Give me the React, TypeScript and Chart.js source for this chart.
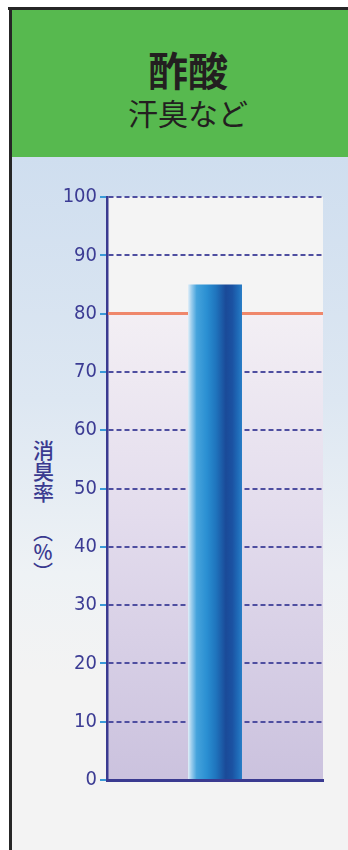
import React, { useEffect, useRef } from 'react';
import { Chart, registerables } from 'chart.js';

Chart.register(...registerables);

// ---- data ----
const CATEGORIES = ['酢酸'];
const DEODORIZATION_RATE = [85];
const TARGET_LINE = 80;
const Y_MIN = 0;
const Y_MAX = 100;
const Y_STEP = 10;
const TITLE = '酢酸';
const SUBTITLE = '汗臭など';
const AXIS_TITLE_MAIN = '消臭率';
const AXIS_TITLE_UNIT = '（％）';

const NAVY = '#3a3a90';
const TICK_FONT = '"Liberation Sans Narrow", "DejaVu Sans Condensed", "Liberation Sans", sans-serif';

const plotBgPlugin = {
  id: 'plotBg',
  beforeDraw(chart: any) {
    const { ctx, chartArea } = chart;
    if (!chartArea) return;
    const g = ctx.createLinearGradient(0, chartArea.top, 0, chartArea.bottom);
    g.addColorStop(0, '#f4f4f4');
    g.addColorStop(0.2, '#f4f4f4');
    g.addColorStop(0.2, '#f3eff4');
    g.addColorStop(0.55, '#e3dced');
    g.addColorStop(1, '#cbc2de');
    ctx.save();
    ctx.fillStyle = g;
    ctx.fillRect(chartArea.left, chartArea.top, chartArea.right - chartArea.left, chartArea.bottom - chartArea.top);
    ctx.restore();
  },
};

const targetLinePlugin = {
  id: 'targetLine',
  beforeDatasetsDraw(chart: any) {
    const { ctx, chartArea, scales } = chart;
    const y = scales.y.getPixelForValue(TARGET_LINE);
    ctx.save();
    ctx.strokeStyle = '#ef876b';
    ctx.lineWidth = 3;
    ctx.beginPath();
    ctx.moveTo(chartArea.left + 1, y);
    ctx.lineTo(chartArea.right, y);
    ctx.stroke();
    ctx.restore();
  },
};

function barGradient(c: any) {
  const chart = c.chart;
  const { chartArea, scales } = chart;
  if (!chartArea || !scales.x) return '#2a8ccc';
  const cat = (chartArea.right - chartArea.left) / CATEGORIES.length;
  const w = cat * 0.25;
  const cx = scales.x.getPixelForValue(c.dataIndex);
  const x0 = cx - w / 2;
  const g = chart.ctx.createLinearGradient(x0, 0, x0 + w, 0);
  g.addColorStop(0, '#e2eff8');
  g.addColorStop(0.06, '#9fcfee');
  g.addColorStop(0.16, '#45a3dc');
  g.addColorStop(0.35, '#2a8fd2');
  g.addColorStop(0.52, '#1f74bd');
  g.addColorStop(0.7, '#1a4a98');
  g.addColorStop(0.82, '#1b52a2');
  g.addColorStop(0.93, '#1f6cb9');
  g.addColorStop(1, '#2a7ec6');
  return g;
}

function ChartCanvas() {
  const ref = useRef<HTMLCanvasElement | null>(null);
  useEffect(() => {
    if (!ref.current) return;
    const chart = new Chart(ref.current, {
      type: 'bar',
      data: {
        labels: CATEGORIES,
        datasets: [
          {
            data: DEODORIZATION_RATE,
            backgroundColor: barGradient as any,
            borderWidth: 0,
            barPercentage: 1,
            categoryPercentage: 0.25,
          },
        ],
      },
      options: {
        animation: false,
        responsive: true,
        maintainAspectRatio: false,
        layout: { padding: { top: 40, right: 25, bottom: 70, left: 0 } },
        plugins: { legend: { display: false }, tooltip: { enabled: false } },
        scales: {
          x: {
            grid: { display: false },
            ticks: { display: false },
            border: { display: true, color: NAVY, width: 3 },
            afterFit: (s: any) => {
              s.height = 0;
            },
          },
          y: {
            min: Y_MIN,
            max: Y_MAX,
            ticks: {
              stepSize: Y_STEP,
              color: '#3c3c94',
              padding: 3,
              font: { family: TICK_FONT, size: 20 },
            },
            grid: {
              color: (c: any) =>
                c.tick && (c.tick.value === TARGET_LINE || c.tick.value === Y_MIN)
                  ? 'rgba(0,0,0,0)'
                  : '#4e4ea0',
              lineWidth: 2,
              tickColor: '#3a9ad8',
              tickLength: 7,
              tickWidth: 2,
            },
            border: { display: true, color: NAVY, width: 2.5, dash: [5, 3] },
            afterFit: (s: any) => {
              s.width = 107;
            },
          },
        },
      },
      plugins: [plotBgPlugin, targetLinePlugin],
    });
    return () => chart.destroy();
  }, []);
  return <canvas ref={ref} />;
}

export default function App() {
  return (
    <div
      style={{
        position: 'absolute',
        left: 0,
        top: 0,
        width: 348,
        height: 850,
        overflow: 'hidden',
        background: '#ffffff',
        fontFamily: '"Noto Sans CJK JP", "Noto Sans", sans-serif',
      }}
    >
      {/* black frame */}
      <div style={{ position: 'absolute', left: 8, top: 6.5, width: 340, height: 3, background: '#262626' }} />
      <div style={{ position: 'absolute', left: 8.5, top: 6.5, width: 3, height: 844, background: '#262626' }} />
      {/* green header */}
      <div style={{ position: 'absolute', left: 11.5, top: 9.5, width: 337, height: 147.5, background: '#57b94f' }} />
      <div
        style={{
          position: 'absolute',
          left: 0,
          top: 49,
          width: 376,
          textAlign: 'center',
          fontSize: 40,
          lineHeight: '40px',
          fontWeight: 700,
          color: '#231f20',
        }}
      >
        {TITLE}
      </div>
      <div
        style={{
          position: 'absolute',
          left: 0,
          top: 97,
          width: 376,
          textAlign: 'center',
          fontSize: 30,
          lineHeight: '30px',
          fontWeight: 400,
          color: '#231f20',
        }}
      >
        {SUBTITLE}
      </div>
      {/* chart panel */}
      <div
        style={{
          position: 'absolute',
          left: 11.5,
          top: 157,
          width: 337,
          height: 693,
          background: 'linear-gradient(to bottom, #cfdeef 0%, #dde7f2 35%, #eef2f5 60%, #f3f3f3 75%, #f3f3f3 100%)',
        }}
      />
      <div
        style={{
          position: 'absolute',
          left: 32.5,
          top: 440,
          writingMode: 'vertical-rl',
          fontSize: 21,
          lineHeight: '21px',
          color: NAVY,
          fontWeight: 500,
        }}
      >
        {AXIS_TITLE_MAIN}
      </div>
      <div
        style={{
          position: 'absolute',
          left: 32.5,
          top: 522,
          writingMode: 'vertical-rl',
          fontSize: 20,
          lineHeight: '21px',
          color: NAVY,
          fontWeight: 500,
        }}
      >
        {AXIS_TITLE_UNIT}
      </div>
      <div style={{ position: 'absolute', left: 0, top: 157, width: 348, height: 693 }}>
        <ChartCanvas />
      </div>
    </div>
  );
}
